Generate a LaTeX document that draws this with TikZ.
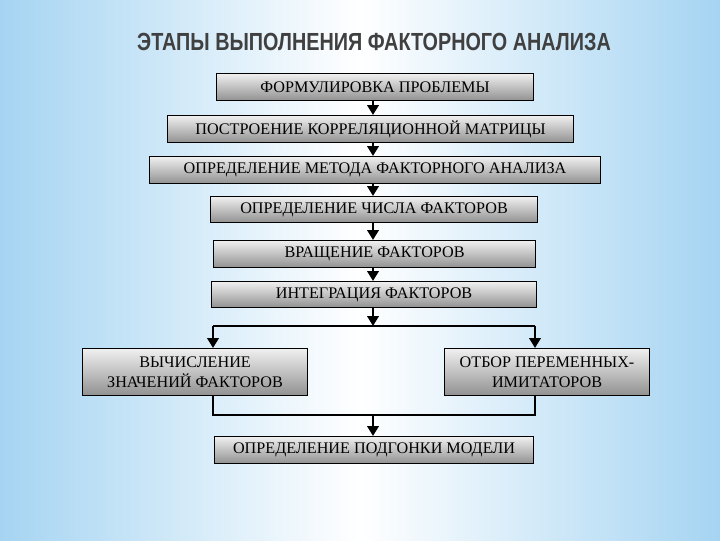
\documentclass[tikz,border=0pt]{standalone}
\usepackage{fontspec}
\setmainfont{Liberation Serif}
\newfontfamily\titlefont{Liberation Sans}
\usetikzlibrary{arrows.meta}
\definecolor{bgblue}{RGB}{165,212,242}
\definecolor{boxtop}{RGB}{240,240,240}
\definecolor{boxbot}{RGB}{145,145,145}
\tikzset{
  px/.style={x=0.025cm,y=-0.025cm},
  stepbox/.style={draw=black, line width=0.8pt, top color=boxtop, bottom color=boxbot, anchor=north west, inner sep=0pt, font=\fontsize{11.5}{14}\selectfont, align=center},
  conn/.style={line width=1.8pt},
  arr/.style={conn, -{Triangle[width=8pt,length=7pt]}}
}
\begin{document}
\begin{tikzpicture}[px]
\shade[left color=bgblue, right color=bgblue, middle color=white] (0,0) rectangle (720,540);
\useasboundingbox (0,0) rectangle (720,540);
\node[font=\titlefont\bfseries\fontsize{16}{20}\selectfont, text=black!75, xscale=0.88, yscale=1.1] (title) at (374,42) {ЭТАПЫ ВЫПОЛНЕНИЯ ФАКТОРНОГО АНАЛИЗА};
\node[stepbox, minimum width=317*0.025cm, minimum height=27*0.025cm] (b1) at (216,73) {ФОРМУЛИРОВКА ПРОБЛЕМЫ};
\node[stepbox, minimum width=406*0.025cm, minimum height=27*0.025cm] (b2) at (167,115) {ПОСТРОЕНИЕ КОРРЕЛЯЦИОННОЙ МАТРИЦЫ};
\node[stepbox, minimum width=451*0.025cm, minimum height=27*0.025cm] (b3) at (149,156) {ОПРЕДЕЛЕНИЕ МЕТОДА ФАКТОРНОГО АНАЛИЗА};
\node[stepbox, minimum width=327*0.025cm, minimum height=26*0.025cm] (b4) at (210,196) {ОПРЕДЕЛЕНИЕ ЧИСЛА ФАКТОРОВ};
\node[stepbox, minimum width=322*0.025cm, minimum height=27*0.025cm] (b5) at (213,240) {ВРАЩЕНИЕ ФАКТОРОВ};
\node[stepbox, minimum width=325*0.025cm, minimum height=26*0.025cm] (b6) at (211,281) {ИНТЕГРАЦИЯ ФАКТОРОВ};
\node[stepbox, minimum width=225*0.025cm, minimum height=47*0.025cm] (b7) at (82,348) {ВЫЧИСЛЕНИЕ\\ЗНАЧЕНИЙ ФАКТОРОВ};
\node[stepbox, minimum width=205*0.025cm, minimum height=47*0.025cm] (b8) at (444,348) {ОТБОР ПЕРЕМЕННЫХ-\\ИМИТАТОРОВ};
\node[stepbox, minimum width=319*0.025cm, minimum height=27*0.025cm] (b9) at (214,436) {ОПРЕДЕЛЕНИЕ ПОДГОНКИ МОДЕЛИ};
\draw[arr] (b1.south -| 373,0) -- (b2.north -| 373,0);
\draw[arr] (b2.south -| 373,0) -- (b3.north -| 373,0);
\draw[arr] (b3.south -| 373,0) -- (b4.north -| 373,0);
\draw[arr] (b4.south -| 373,0) -- (b5.north -| 373,0);
\draw[arr] (b5.south -| 373,0) -- (b6.north -| 373,0);
\draw[arr] (b6.south -| 373,0) -- (373,326);
\coordinate (jl) at (213,326);
\coordinate (jr) at (535,326);
\draw[conn] (jl) -- (jr);
\draw[arr] (jl) -- (b7.north -| jl);
\draw[arr] (jr) -- (b8.north -| jr);
\coordinate (ml) at (213,415);
\coordinate (mr) at (535,415);
\draw[conn] (b7.south -| ml) -- (ml) -- (mr) -- (b8.south -| mr);
\draw[arr] (373,415) -- (b9.north -| 373,0);
\end{tikzpicture}
\end{document}
